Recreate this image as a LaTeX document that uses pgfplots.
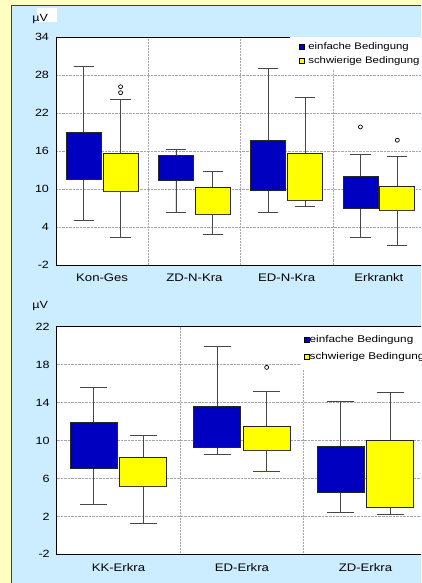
\documentclass[border=0pt]{standalone}
\usepackage{fontspec}
\setmainfont[FakeStretch=1.2]{Liberation Sans}
\usepackage{pgfplots}
\pgfplotsset{compat=1.18}
\usepgfplotslibrary{statistics}
\definecolor{bgyellow}{RGB}{255,255,192}
\definecolor{panelblue}{RGB}{204,236,255}
\definecolor{boxblue}{RGB}{0,0,192}
\definecolor{boxyellow}{RGB}{255,255,0}
\definecolor{wgray}{RGB}{70,70,70}
\pgfplotsset{
  mybox/.style={
    scale only axis,
    axis background/.style={fill=white},
    axis line style={black, line width=0.8bp},
    xtick={0,1,2,3},
    minor xtick={0.5,1.5,2.5},
    xminorgrids=true, ymajorgrids=true, xmajorgrids=false,
    grid style={densely dotted, gray!70, line width=0.5bp},
    minor grid style={densely dotted, gray!70, line width=0.5bp},
    major tick length=0pt, minor tick length=0pt,
    /pgf/number format/assume math mode=true,
    yticklabel style={font=\fontsize{10.5}{12}\selectfont, xshift=-3.5bp},
    xticklabel style={font=\fontsize{11}{13}\selectfont, yshift=-5.5bp},
    legend cell align=left,
    boxplot/draw direction=y,
    boxplot/every whisker/.style={draw=wgray, line width=0.8bp},
    boxplot/every box/.style={draw=black!85, line width=0.8bp},
    boxplot/every median/.style={draw=none},
  },
  bB/.style={fill=boxblue, forget plot, mark=o, mark options={black, line width=0.7bp}, mark size=2bp},
  bY/.style={fill=boxyellow, forget plot, mark=o, mark options={black, line width=0.7bp}, mark size=2bp},
}
\begin{document}
\begin{tikzpicture}[x=1bp,y=1bp]
\useasboundingbox (0,0) rectangle (421,583);
\clip (0,0) rectangle (421,583);
\fill[bgyellow] (0,0) rectangle (421,583);
\filldraw[fill=panelblue, draw=black!75, line width=0.8bp] (11,-10) rectangle (440,578);
\fill[white] (37,561) rectangle (57,575);
\node[anchor=base west, inner sep=0pt, font=\fontsize{10.5}{12}\selectfont] at (32.3,561.3) {µV};
\node[anchor=base west, inner sep=0pt, font=\fontsize{10.5}{12}\selectfont] at (32.3,274) {µV};

% ---------------- top panel ----------------
\begin{axis}[mybox,
  at={(56bp,318bp)}, anchor=south west,
  width=369bp, height=228bp,
  xmin=-0.5, xmax=3.5, ymin=-2, ymax=34,
  ytick={-2,4,10,16,22,28,34},
  xticklabels={Kon-Ges,ZD-N-Kra,ED-N-Kra,Erkrankt},
  legend style={at={(axis description cs:0.634,1)}, anchor=north west,
    draw=none, fill=white, inner xsep=9bp, inner ysep=4.5bp, row sep=5bp,
    font=\fontsize{9.5}{11}\selectfont, nodes={inner xsep=3.5bp, inner ysep=0.5bp}},
]
\addlegendimage{legend image code/.code={\draw[fill=boxblue,draw=black,line width=0.5bp] (0bp,-2.6bp) rectangle (5.2bp,2.6bp);}}
\addlegendentry{einfache Bedingung}
\addlegendimage{legend image code/.code={\draw[fill=boxyellow,draw=black,line width=0.5bp] (0bp,-2.6bp) rectangle (5.2bp,2.6bp);}}
\addlegendentry{schwierige Bedingung}

\addplot[bB, boxplot prepared={draw position=-0.2, lower whisker=5.0, lower quartile=11.5, median=11.5, upper quartile=18.95, upper whisker=29.4, box extend=0.38, whisker extend=0.22}] coordinates {};
\addplot[bY, boxplot prepared={draw position=0.2, lower whisker=2.4, lower quartile=9.6, median=9.6, upper quartile=15.6, upper whisker=24.2, box extend=0.38, whisker extend=0.22}] table[row sep=\\,y index=0] {data\\ 25.2\\ 26.15\\};
\addplot[bB, boxplot prepared={draw position=0.8, lower whisker=6.35, lower quartile=11.3, median=11.3, upper quartile=15.25, upper whisker=16.2, box extend=0.38, whisker extend=0.22}] coordinates {};
\addplot[bY, boxplot prepared={draw position=1.2, lower whisker=2.9, lower quartile=6.0, median=6.0, upper quartile=10.25, upper whisker=12.8, box extend=0.38, whisker extend=0.22}] coordinates {};
\addplot[bB, boxplot prepared={draw position=1.8, lower whisker=6.3, lower quartile=9.7, median=9.7, upper quartile=17.6, upper whisker=29.0, box extend=0.38, whisker extend=0.22}] coordinates {};
\addplot[bY, boxplot prepared={draw position=2.2, lower whisker=7.25, lower quartile=8.25, median=8.25, upper quartile=15.6, upper whisker=24.4, box extend=0.38, whisker extend=0.22}] coordinates {};
\addplot[bB, boxplot prepared={draw position=2.8, lower whisker=2.4, lower quartile=7.0, median=7.0, upper quartile=11.95, upper whisker=15.5, box extend=0.38, whisker extend=0.22}] table[row sep=\\,y index=0] {data\\ 19.8\\};
\addplot[bY, boxplot prepared={draw position=3.2, lower whisker=1.1, lower quartile=6.6, median=6.6, upper quartile=10.35, upper whisker=15.15, box extend=0.38, whisker extend=0.22}] table[row sep=\\,y index=0] {data\\ 17.7\\};
\end{axis}

% ---------------- bottom panel ----------------
\begin{axis}[mybox,
  at={(56.7bp,28.7bp)}, anchor=south west,
  width=370.5bp, height=227.6bp,
  xmin=-0.5, xmax=2.5, ymin=-2, ymax=22,
  xtick={0,1,2}, minor xtick={0.5,1.5},
  ytick={-2,2,6,10,14,18,22},
  xticklabels={KK-Erkra,ED-Erkra,ZD-Erkra},
  legend style={at={(axis description cs:0.657,1)}, anchor=north west,
    draw=none, fill=white, inner xsep=3.5bp, inner ysep=8.5bp, row sep=7bp,
    font=\fontsize{9.8}{11}\selectfont, nodes={inner xsep=0.4bp, inner ysep=0.5bp}},
]
\addlegendimage{legend image code/.code={\draw[fill=boxblue,draw=black,line width=0.5bp] (0bp,-2.5bp) rectangle (5bp,2.5bp);}}
\addlegendentry{einfache Bedingung}
\addlegendimage{legend image code/.code={\draw[fill=boxyellow,draw=black,line width=0.5bp] (0bp,-2.5bp) rectangle (5bp,2.5bp);}}
\addlegendentry{schwierige Bedingung}

\addplot[bB, boxplot prepared={draw position=-0.2, lower whisker=3.24, lower quartile=7.07, median=7.07, upper quartile=11.95, upper whisker=15.57, box extend=0.38, whisker extend=0.22}] coordinates {};
\addplot[bY, boxplot prepared={draw position=0.2, lower whisker=1.23, lower quartile=5.17, median=5.17, upper quartile=8.26, upper whisker=10.5, box extend=0.38, whisker extend=0.22}] coordinates {};
\addplot[bB, boxplot prepared={draw position=0.8, lower whisker=8.54, lower quartile=9.25, median=9.25, upper quartile=13.64, upper whisker=19.96, box extend=0.38, whisker extend=0.22}] coordinates {};
\addplot[bY, boxplot prepared={draw position=1.2, lower whisker=6.79, lower quartile=8.93, median=8.93, upper quartile=11.53, upper whisker=15.18, box extend=0.38, whisker extend=0.22}] table[row sep=\\,y index=0] {data\\ 17.71\\};
\addplot[bB, boxplot prepared={draw position=1.8, lower whisker=2.43, lower quartile=4.57, median=4.57, upper quartile=9.39, upper whisker=14.16, box extend=0.38, whisker extend=0.22}] coordinates {};
\addplot[bY, boxplot prepared={draw position=2.2, lower whisker=2.22, lower quartile=2.99, median=2.99, upper quartile=9.98, upper whisker=15.08, box extend=0.38, whisker extend=0.22}] coordinates {};
\end{axis}
\end{tikzpicture}
\end{document}
